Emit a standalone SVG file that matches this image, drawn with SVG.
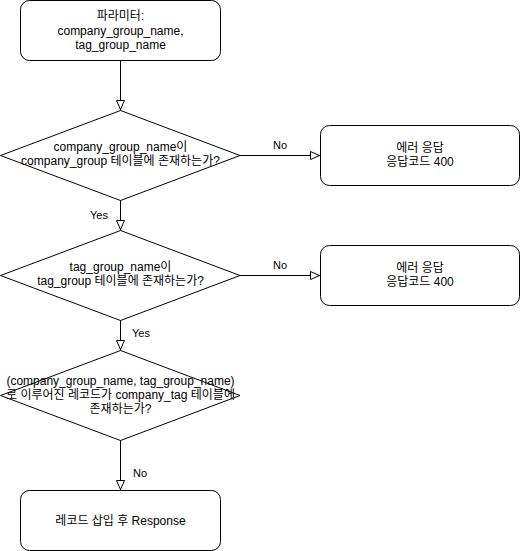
<svg xmlns="http://www.w3.org/2000/svg" width="521" height="551" viewBox="0 0 521 551">
<style>
.n{fill:#fff;stroke:#000;stroke-width:1}
.t{font-family:"Liberation Sans","Noto Sans CJK KR",sans-serif;font-size:12px;fill:#000;text-anchor:middle}
.l{font-family:"Liberation Sans","Noto Sans CJK KR",sans-serif;font-size:11px;fill:#000}
.e{fill:none;stroke:#000;stroke-width:1;marker-end:url(#a)}
</style>
<defs>
<marker id="a" viewBox="0 0 10 10" refX="10" refY="5" markerWidth="10" markerHeight="10" markerUnits="userSpaceOnUse" orient="auto">
<path d="M0.5,1 L9.5,5 L0.5,9 Z" fill="#fff" stroke="#000" stroke-width="1"/>
</marker>
</defs>
<rect width="521" height="551" fill="#fff"/>
<g id="connectors">
<path class="e" d="M120.5,60.5 V110"/>
<path class="e" d="M120.5,200 V230"/>
<path class="e" d="M120.5,320 V350"/>
<path class="e" d="M120.5,440 V490"/>
<path class="e" d="M240,155.5 H320"/>
<path class="e" d="M240,275.5 H320"/>
<text class="l" x="90" y="219">Yes</text>
<text class="l" x="132" y="337">Yes</text>
<text class="l" x="273" y="149">No</text>
<text class="l" x="273" y="269">No</text>
<text class="l" x="133" y="477">No</text>
</g>
<g id="params">
<rect class="n" x="20.5" y="0.5" width="200" height="60" rx="9"/>
<text class="t" x="120.5" y="20">파라미터:</text>
<text class="t" x="120.5" y="35">company_group_name,</text>
<text class="t" x="120.5" y="49">tag_group_name</text>
</g>
<g id="d1">
<path class="n" d="M120.5,110.5 L240,155.5 L120.5,200.5 L0.5,155.5 Z"/>
<text class="t" x="120.5" y="151">company_group_name이</text>
<text class="t" x="120.5" y="165">company_group 테이블에 존재하는가?</text>
</g>
<g id="err1">
<rect class="n" x="320.5" y="125.5" width="199" height="60" rx="9"/>
<text class="t" x="420" y="152">에러 응답</text>
<text class="t" x="420" y="166">응답코드 400</text>
</g>
<g id="d2">
<path class="n" d="M120.5,230.5 L240,275.5 L120.5,320.5 L0.5,275.5 Z"/>
<text class="t" x="120.5" y="271">tag_group_name이</text>
<text class="t" x="120.5" y="285">tag_group 테이블에 존재하는가?</text>
</g>
<g id="err2">
<rect class="n" x="320.5" y="245.5" width="199" height="60" rx="9"/>
<text class="t" x="420" y="272">에러 응답</text>
<text class="t" x="420" y="286">응답코드 400</text>
</g>
<g id="d3">
<path class="n" d="M120.5,350.5 L240,395.5 L120.5,440.5 L0.5,395.5 Z"/>
<text class="t" x="120.5" y="385">(company_group_name, tag_group_name)</text>
<text class="t" x="120.5" y="399">로 이루어진 레코드가 company_tag 테이블에</text>
<text class="t" x="120.5" y="413">존재하는가?</text>
</g>
<g id="insert">
<rect class="n" x="20.5" y="490.5" width="200" height="60" rx="9"/>
<text class="t" x="120.5" y="525">레코드 삽입 후 Response</text>
</g>
</svg>
